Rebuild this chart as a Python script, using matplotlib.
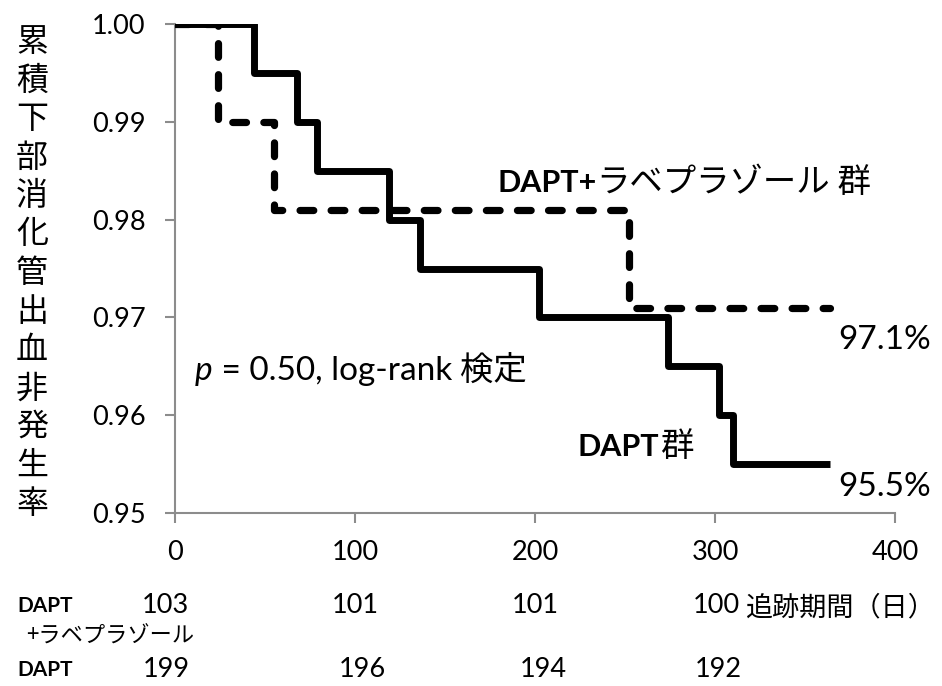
import matplotlib
matplotlib.use("Agg")
import matplotlib.pyplot as plt

plt.rcParams['font.family'] = ['Lato', 'Noto Sans CJK JP', 'DejaVu Sans']

# Kaplan-Meier step data (days, survival free of lower GI bleeding)
dapt_times = [0, 44, 68, 79, 119, 136, 202, 274, 302, 310, 364]
dapt_surv = [1.000, 0.995, 0.990, 0.985, 0.980, 0.975, 0.970, 0.965, 0.960, 0.955, 0.955]

rabe_times = [0, 24, 55, 252, 364]
rabe_surv = [1.000, 0.990, 0.981, 0.971, 0.971]

x_ticks = [0, 100, 200, 300, 400]
y_ticks = [0.95, 0.96, 0.97, 0.98, 0.99, 1.00]

# numbers at risk
risk_rabe = [103, 101, 101, 100]
risk_dapt = [199, 196, 194, 192]

ylabel_text = "累積下部消化管出血非発生率"

W, H = 942, 686
fig = plt.figure(figsize=(W / 100, H / 100), dpi=100)
ax = fig.add_axes([175 / W, 1 - 513 / H, 720 / W, 489 / H])

ax.step(rabe_times, rabe_surv, where='post', color='black', lw=5.2,
        linestyle=(0, (1.9, 2.4)), dash_capstyle='round', zorder=3)
ax.step(dapt_times, dapt_surv, where='post', color='black', lw=5.0,
        solid_joinstyle='round', solid_capstyle='butt', zorder=4)

ax.set_xlim(0, 400)
ax.set_ylim(0.95, 1.00)
ax.set_xticks(x_ticks)
ax.set_yticks(y_ticks)
ax.set_xticklabels([str(v) for v in x_ticks])
ax.set_yticklabels([f"{v:.2f}" for v in y_ticks])
for s in ['top', 'right']:
    ax.spines[s].set_visible(False)
for s in ['left', 'bottom']:
    ax.spines[s].set_color('#8c8c8c')
    ax.spines[s].set_linewidth(1.5)
ax.tick_params(axis='both', direction='out', length=7.2, width=1.5, color='#8c8c8c',
               labelsize=19.5, labelcolor='black')
ax.tick_params(axis='x', pad=12)
ax.tick_params(axis='y', pad=14)

# vertical y-axis label, one character per line
n = len(ylabel_text)
top_px, bot_px = 42, 504
for i, ch in enumerate(ylabel_text):
    ypx = top_px + (bot_px - top_px) * i / (n - 1)
    fig.text(32 / W, 1 - ypx / H, ch, ha='center', va='center', fontsize=23,
             family='Noto Sans CJK JP')


def text_run(x_px, y_px, pieces):
    """Draw consecutive text pieces on one baseline, starting at (x_px, y_px)."""
    renderer = fig.canvas.get_renderer()
    x = x_px
    for s, kw in pieces:
        t = fig.text(x / W, 1 - y_px / H, s, ha='left', va='baseline', **kw)
        x = t.get_window_extent(renderer=renderer).x1
    return x


bold_lat = dict(fontsize=22, fontweight='bold', family='Lato')
jp = dict(fontsize=24, family='Noto Sans CJK JP')
num = dict(fontsize=24, family='Lato')

# group labels
text_run(497, 192, [("DAPT+", bold_lat), ("ラベプラゾール", jp), (" 群", jp)])
text_run(578, 456, [("DAPT", bold_lat), ("群", jp)])

# final estimates
fig.text(838 / W, 1 - 349 / H, f"{rabe_surv[-1] * 100:.1f}%", ha='left', va='baseline', **num)
fig.text(838 / W, 1 - 496 / H, f"{dapt_surv[-1] * 100:.1f}%", ha='left', va='baseline', **num)

# test result
text_run(195, 380, [("p", dict(fontsize=24, family='Lato', style='italic')),
                    (" = 0.50, log-rank ", num), ("検定", jp)])

# numbers-at-risk table
rabe_x_px = [165, 355, 535, 716]
dapt_x_px = [166, 362, 543, 718]
for v, xp in zip(risk_rabe, rabe_x_px):
    fig.text(xp / W, 1 - 613 / H, str(v), ha='center', va='baseline', fontsize=19.5)
for v, xp in zip(risk_dapt, dapt_x_px):
    fig.text(xp / W, 1 - 677 / H, str(v), ha='center', va='baseline', fontsize=19.5)
fig.text(17 / W, 1 - 612 / H, "DAPT", ha='left', va='baseline', fontsize=15, fontweight='bold')
fig.text(26 / W, 1 - 643 / H, "+ラベプラゾール", ha='left', va='baseline', fontsize=16,
         family='Noto Sans CJK JP')
fig.text(17 / W, 1 - 676 / H, "DAPT", ha='left', va='baseline', fontsize=15, fontweight='bold')
fig.text(745 / W, 1 - 615 / H, "追跡期間（日）", ha='left', va='baseline', fontsize=19.5,
         family='Noto Sans CJK JP')

fig.savefig("out.png", dpi=100)
